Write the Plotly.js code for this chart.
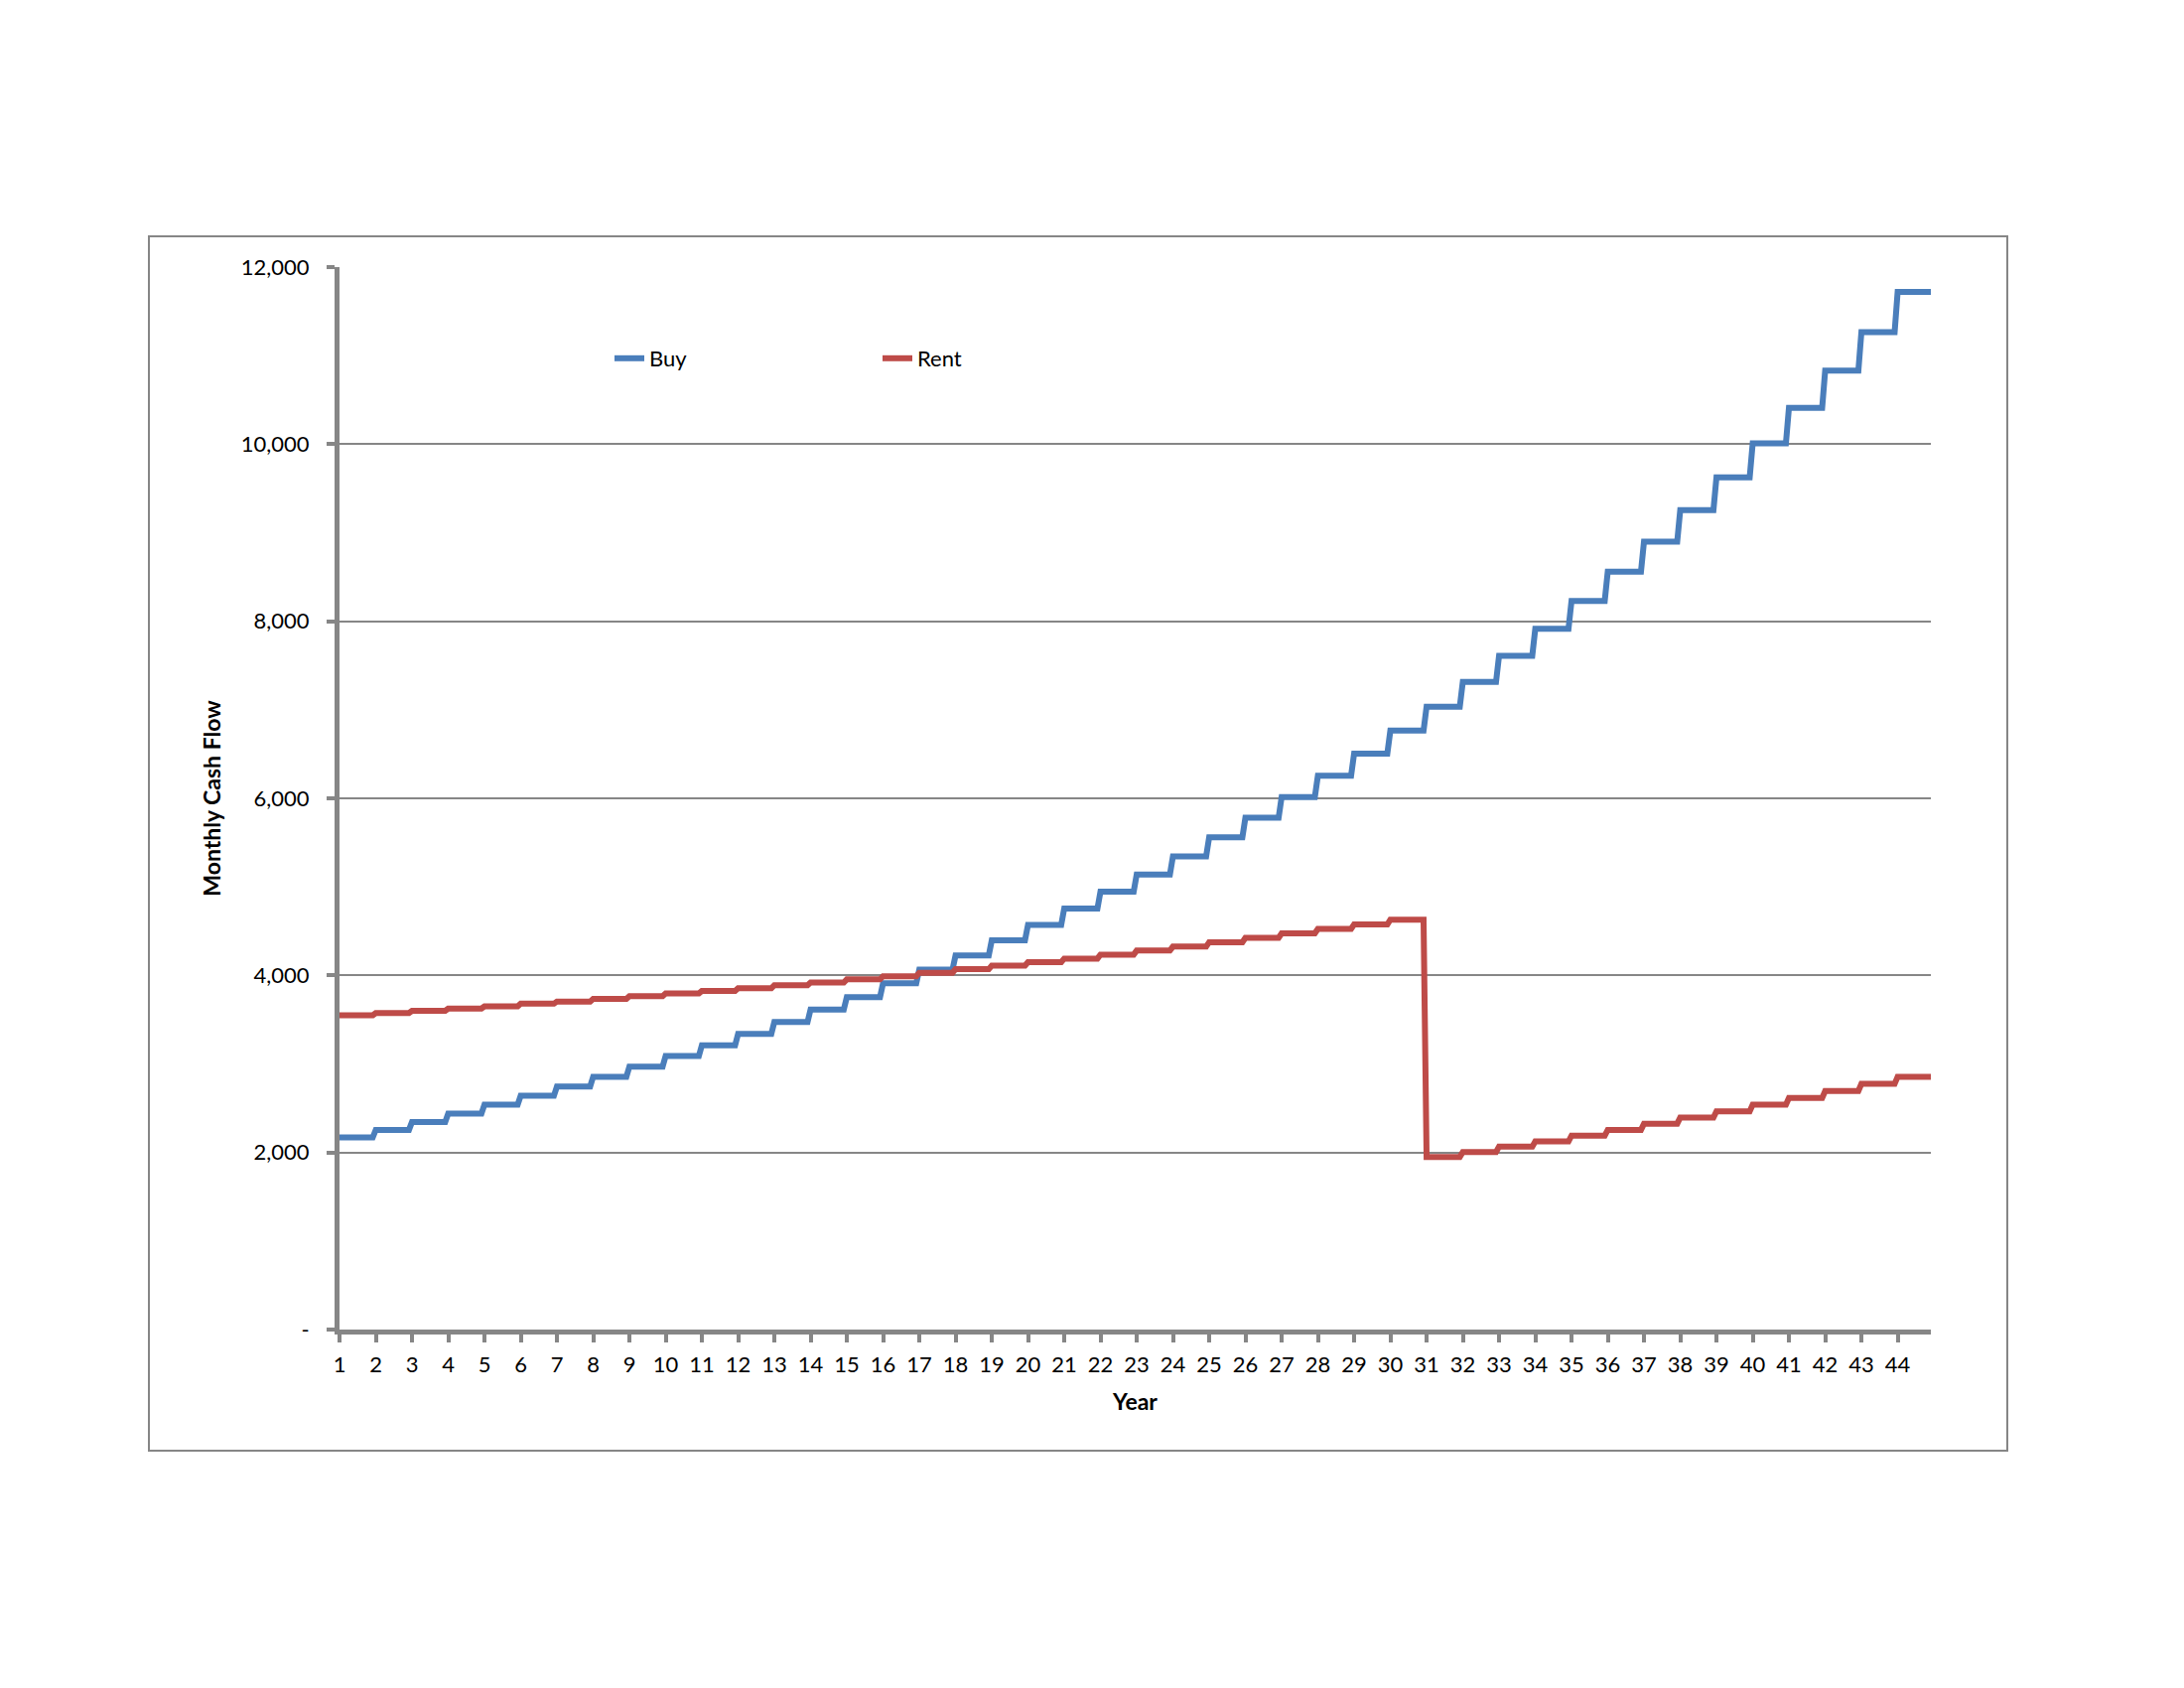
<!DOCTYPE html>
<html>
<head>
<meta charset="utf-8">
<script src="https://cdn.plot.ly/plotly-3.0.1.min.js"></script>
<style>html,body{margin:0;padding:0;background:#fff;}</style>
</head>
<body>
<div id="chart" style="width:2200px;height:1700px;"></div>
<script>
// Year categories (tick labels)
const years = [1,2,3,4,5,6,7,8,9,10,11,12,13,14,15,16,17,18,19,20,21,22,
               23,24,25,26,27,28,29,30,31,32,33,34,35,36,37,38,39,40,41,42,43,44];
// Monthly cash flow for each year (constant within the year)
const buyValues = [2170,2255,2345,2440,2540,2640,2745,2855,2970,3090,
                   3210,3340,3475,3615,3755,3910,4065,4225,4395,4570,
                   4755,4945,5140,5345,5560,5780,6015,6255,6505,6765,
                   7035,7315,7610,7915,8230,8560,8900,9255,9625,10010,
                   10410,10830,11265,11720];
const rentValues = [3550,3575,3600,3625,3650,3680,3705,3735,3765,3795,
                    3825,3855,3890,3920,3955,3990,4030,4070,4110,4150,
                    4190,4235,4280,4325,4375,4425,4475,4525,4575,4630,
                    1950,2005,2065,2125,2190,2255,2325,2395,2465,2540,
                    2615,2695,2775,2855];
const monthsPerYear = 12;
const yTickVals = [0,2000,4000,6000,8000,10000,12000];
const yTickText = ["-","2,000","4,000","6,000","8,000","10,000","12,000"];

// One point per month: each year's value held for its 12 months
const monthIdx = [], buyMonthly = [], rentMonthly = [];
years.forEach((yr, i) => {
  for (let m = 0; m < monthsPerYear; m++) {
    monthIdx.push(i * monthsPerYear + m);
    buyMonthly.push(buyValues[i]);
    rentMonthly.push(rentValues[i]);
  }
});
const xTickVals = years.map((yr, i) => i * monthsPerYear);
const xTickText = years.map(String);

const grey = '#868686';
const font = 'Lato, "Open Sans", "Liberation Sans", sans-serif';

const traces = [
  {x: monthIdx, y: buyMonthly, type: 'scatter', mode: 'lines', name: 'Buy',
   line: {color: '#4A7EBB', width: 6}},
  {x: monthIdx, y: rentMonthly, type: 'scatter', mode: 'lines', name: 'Rent',
   line: {color: '#BE4B48', width: 6}}
];

const L = 342, R = 1945, T = 269, B = 1339;
const W = R - L, H = B - T;
const px = v => (v - L) / W;
const py = v => (B - v) / H;

const layout = {
  width: 2200, height: 1700,
  margin: {l: L, r: 2200 - R, t: T, b: 1700 - B},
  paper_bgcolor: '#fff', plot_bgcolor: '#fff',
  font: {family: font, size: 22, color: '#000'},
  showlegend: true,
  legend: {orientation: 'h', x: px(614), y: py(361), xanchor: 'left', yanchor: 'middle',
           entrywidth: 225, entrywidthmode: 'pixels', bgcolor: 'rgba(0,0,0,0)',
           font: {family: font, size: 22, color: '#000'}},
  xaxis: {
    range: [0, monthIdx.length - 1], tickmode: 'array', tickvals: xTickVals, ticktext: xTickText,
    showgrid: false, zeroline: false, showline: true, linecolor: grey, linewidth: 5,
    ticks: 'outside', ticklen: 8, tickwidth: 4, tickcolor: grey,
    tickfont: {family: font, size: 22, color: '#000'}, tickangle: 0, ticklabelstandoff: 4,
    title: {text: '<b>Year</b>', font: {family: font, size: 23, color: '#000'}, standoff: 19},
    fixedrange: true
  },
  yaxis: {
    range: [0, 12000], tickmode: 'array', tickvals: yTickVals, ticktext: yTickText,
    showgrid: true, gridcolor: grey, gridwidth: 2, zeroline: false,
    showline: true, linecolor: grey, linewidth: 5,
    ticks: 'outside', ticklen: 8, tickwidth: 4, tickcolor: grey,
    tickfont: {family: font, size: 22, color: '#000'}, ticklabelstandoff: 13,
    title: {text: '<b>Monthly Cash Flow</b>', font: {family: font, size: 23, color: '#000'}, standoff: 15},
    fixedrange: true
  },
  shapes: [{
    type: 'rect', xref: 'paper', yref: 'paper',
    x0: px(150), x1: px(2022), y0: py(1461), y1: py(238),
    line: {color: grey, width: 2}, fillcolor: 'rgba(0,0,0,0)', layer: 'below'
  }]
};

Plotly.newPlot('chart', traces, layout, {displayModeBar: false, staticPlot: true});
</script>
</body>
</html>
